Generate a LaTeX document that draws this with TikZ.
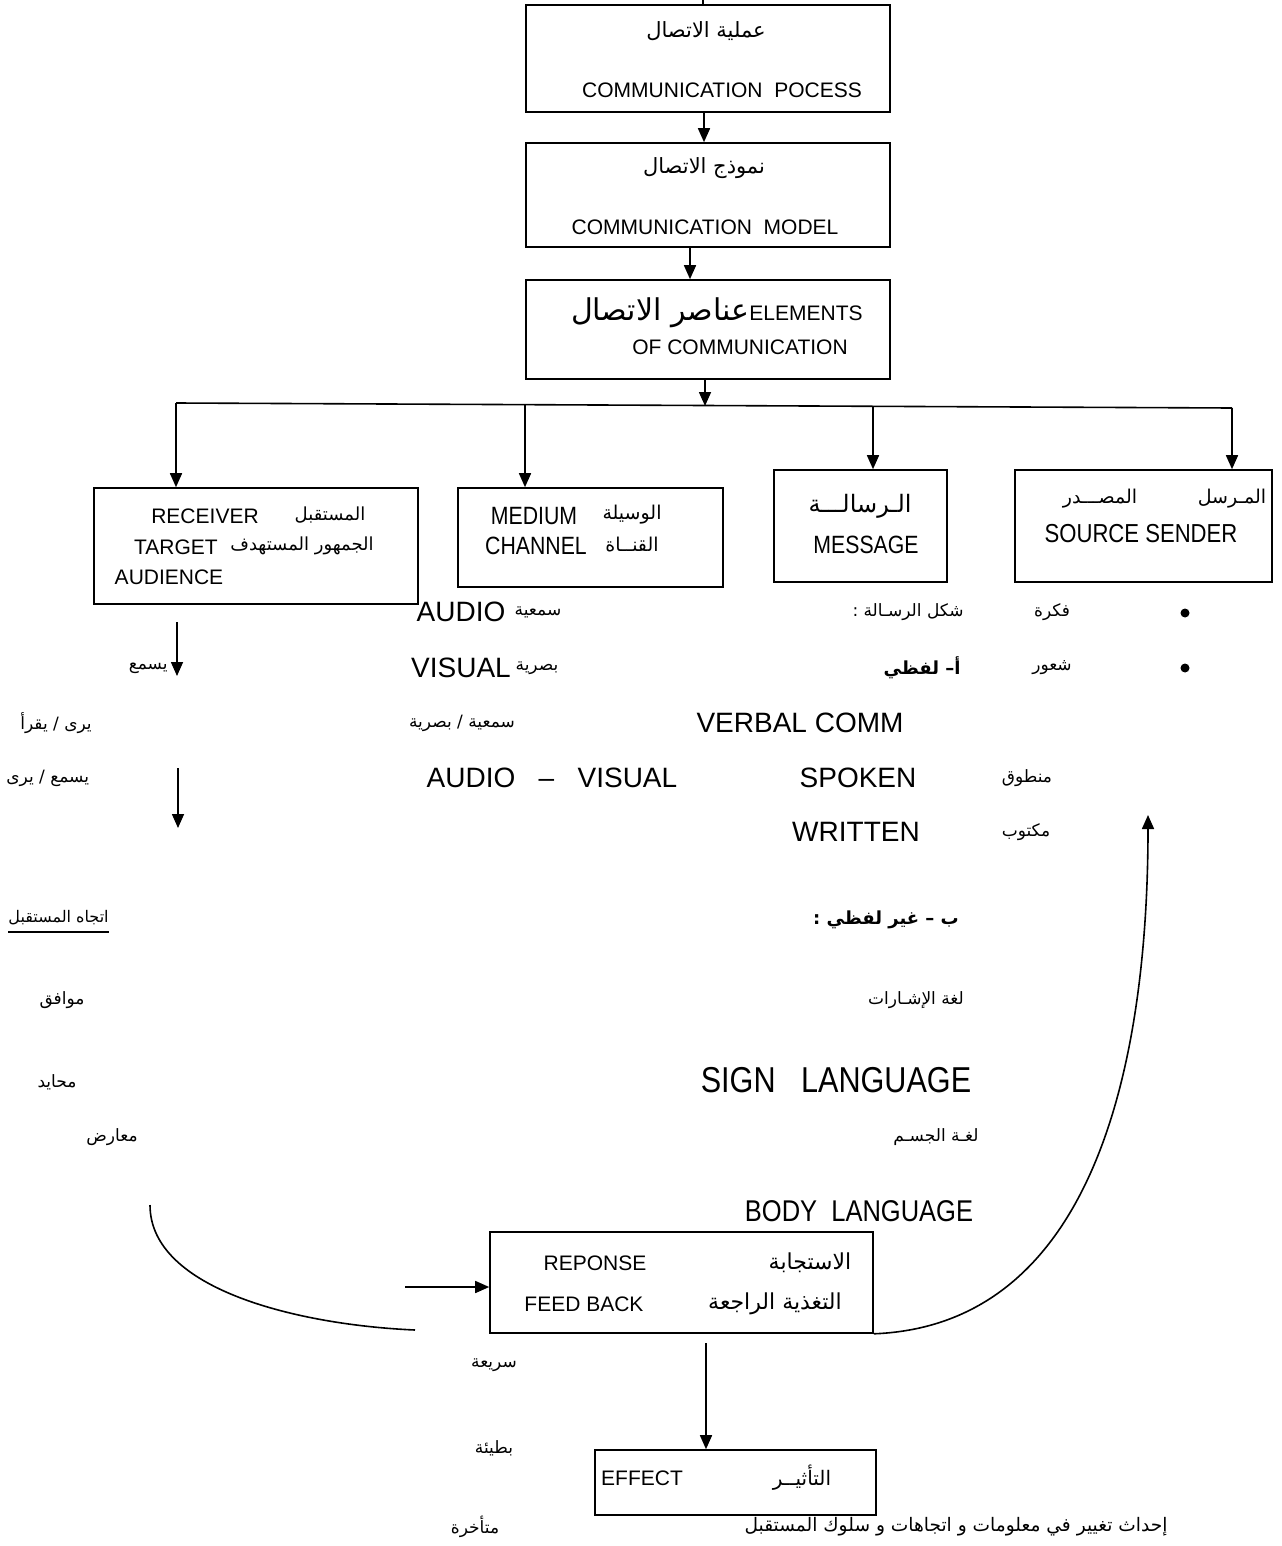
\documentclass[tikz,border=0pt]{standalone}
\usepackage{fontspec}
\setmainfont{Liberation Sans}
\newfontfamily\arf[Script=Arabic]{DejaVu Sans}
\newfontfamily\enN[FakeStretch=0.85]{Liberation Sans}
\TeXXeTstate=1
\usetikzlibrary{arrows.meta,fit}
\newcommand\AR[1]{{\arf\beginR #1\endR}}
\newcommand\fs[1]{\fontsize{#1}{#1}\selectfont}
\begin{document}
\begin{tikzpicture}[x=0.5pt,y=-0.5pt,
  box/.style={draw,line width=0.8pt,inner sep=0pt},
  txt/.style={inner sep=0pt,anchor=center},
  arr/.style={line width=0.8pt,-{Triangle[length=7pt,width=6pt]}},
  ln/.style={line width=0.8pt},
  boxen/.style={txt,font=\fs{10.5}},
  boxar/.style={txt,font=\fs{10.5}},
  bigen/.style={txt,font=\fs{14}},
  looseAr/.style={txt,font=\fs{8.5}},
  dot/.style={circle,fill,inner sep=0pt,minimum size=4.5pt}]
\useasboundingbox (0,0) rectangle (1281,1546);

% ---- main chain of boxes ----
\node[box,fit={(526,5) (890,112)}] (b1) {};
\node[box,fit={(526,143) (890,247)}] (b2) {};
\node[box,fit={(526,280) (890,379)}] (b3) {};

\node[boxar] (t1a) at (706,31) {\AR{عملية الاتصال}};
\node[boxen] (t1b) at (722,90) {COMMUNICATION\ \ POCESS};
\node[boxar] (t2a) at (704,168) {\AR{نموذج الاتصال}};
\node[boxen] (t2b) at (705,227) {COMMUNICATION\ \ MODEL};
\node[txt,anchor=east] (t3a) at (863,313) {{\fs{15}\AR{عناصر الاتصال}}{\fs{10.5}ELEMENTS}};
\node[boxen] (t3b) at (740,347) {OF COMMUNICATION};

\coordinate (top) at (703,0);
\coordinate (x704) at (704,0);
\coordinate (x690) at (690,0);
\draw[ln] (top) -- (top |- b1.north);
\draw[arr] (b1.south -| x704) -- (b2.north -| x704);
\draw[arr] (b2.south -| x690) -- (b3.north -| x690);

% ---- distribution bus ----
\coordinate (busL) at (176,403);
\coordinate (busR) at (1232,408);
\coordinate (busM) at (525,404);
\coordinate (busC) at (705,406);
\coordinate (busS) at (873,406);
\draw[ln] (busL) -- (busR);
\draw[arr] (b3.south -| busC) -- (busC);

% ---- element boxes ----
\node[box,fit={(94,488) (418,604)}] (recv) {};
\node[box,fit={(458,488) (723,587)}] (med) {};
\node[box,fit={(774,470) (947,582)}] (msg) {};
\node[box,fit={(1015,470) (1272,582)}] (src) {};

\draw[arr] (busL) -- (recv.north -| busL);
\draw[arr] (busM) -- (med.north -| busM);
\draw[arr] (busS) -- (msg.north -| busS);
\draw[arr] (busR) -- (src.north -| busR);

\node[boxen] (r1) at (205,516) {RECEIVER};
\node[txt,font=\fs{9}] (r2) at (330,515) {\AR{المستقبل}};
\node[boxen] (r3) at (176,547) {TARGET};
\node[txt,font=\fs{9}] (r4) at (302,546) {\AR{الجمهور المستهدف}};
\node[boxen] (r5) at (169,577) {AUDIENCE};

\node[txt,font=\enN\fs{12.5}] (m1) at (534,516) {MEDIUM};
\node[txt,font=\fs{9.5}] (m2) at (632,515) {\AR{الوسيلة}};
\node[txt,font=\enN\fs{12.5}] (m3) at (536,546) {CHANNEL};
\node[txt,font=\fs{9.5}] (m4) at (632,545) {\AR{القنــاة}};

\node[txt,font=\fs{12}] (g1) at (860,506) {\AR{الـرسالـــة}};
\node[txt,font=\enN\fs{12.5}] (g2) at (866,545) {MESSAGE};

\node[txt,font=\fs{9.5}] (s1) at (1232,499) {\AR{المـرسل}};
\node[txt,font=\fs{9.5}] (s2) at (1100,499) {\AR{المصـــدر}};
\node[txt,font=\enN\fs{13}] (s3) at (1141,534) {SOURCE\ SENDER};

% ---- medium column ----
\node[bigen] (a1) at (461,612) {AUDIO};
\node[looseAr] (a2) at (538,612) {\AR{سمعية}};
\node[bigen] (a3) at (461,668) {VISUAL};
\node[looseAr] (a4) at (537,668) {\AR{بصرية}};
\node[looseAr] (a5) at (462,723) {\AR{سمعية / بصرية}};
\node[bigen] (a6) at (552,778) {AUDIO\ \ \ --\ \ \ VISUAL};

% ---- message column ----
\node[looseAr] (c1) at (908,612) {\AR{شكل الرسـالة :}};
\node[txt,font=\fs{9}\bfseries] (c2) at (922,668) {\AR{أ– لفظي}};
\node[bigen] (c3) at (800,723) {VERBAL COMM};
\node[bigen] (c4) at (858,778) {SPOKEN};
\node[looseAr] (c5) at (1027,778) {\AR{منطوق}};
\node[bigen] (c6) at (856,832) {WRITTEN};
\node[looseAr] (c7) at (1026,832) {\AR{مكتوب}};
\node[txt,font=\fs{9}\bfseries] (c8) at (886,920) {\AR{ب – غير لفظي :}};
\node[looseAr] (c9) at (916,1000) {\AR{لغة الإشـارات}};
\node[txt,font=\enN\fs{18}] (c10) at (836,1080) {SIGN\ \ \ LANGUAGE};
\node[looseAr] (c11) at (936,1137) {\AR{لغـة الجسـم}};
\node[txt,font=\enN\fs{15}] (c12) at (859,1211) {BODY\ \ LANGUAGE};

% ---- source column ----
\node[looseAr] (e1) at (1052,612) {\AR{فكرة}};
\node[looseAr] (e2) at (1052,668) {\AR{شعور}};
\node[dot] (d1) at (1185,613) {};
\node[dot] (d2) at (1185,668) {};

% ---- receiver column ----
\coordinate (ra1) at (177,622);
\coordinate (ra2) at (177,676);
\coordinate (rb1) at (178,768);
\coordinate (rb2) at (178,828);
\draw[arr] (ra1) -- (ra2);
\draw[arr] (rb1) -- (rb2);
\node[looseAr,anchor=east] (v1) at (168,668) {\AR{يسمع}};
\node[looseAr] (v2) at (56,723) {\AR{يرى / يقرأ}};
\node[looseAr,anchor=west] (v3) at (6,778) {\AR{يسمع / يرى}};
\node[txt,font=\fs{8},anchor=west] (v4) at (8,918) {\AR{اتجاه المستقبل}};
\draw[ln] ([yshift=-3pt]v4.south west) -- ([yshift=-3pt]v4.south east);
\node[looseAr] (v5) at (62,1000) {\AR{موافق}};
\node[looseAr] (v6) at (57,1082) {\AR{محايد}};
\node[looseAr] (v7) at (112,1137) {\AR{معارض}};

% ---- feedback ----
\node[box,fit={(490,1232) (873,1333)}] (fb) {};
\node[txt,font=\fs{10.5}] (f1) at (595,1263) {REPONSE};
\node[txt,font=\fs{11}] (f2) at (810,1263) {\AR{الاستجابة}};
\node[txt,font=\fs{10.5}] (f3) at (584,1304) {FEED\ BACK};
\node[txt,font=\fs{11}] (f4) at (775,1304) {\AR{التغذية الراجعة}};

\coordinate (fin) at (405,1287);
\draw[arr] (fin) -- (fin -| fb.west);

\coordinate (lc1) at (150,1205);
\coordinate (lc2) at (415,1330);
\draw[ln] (lc1) .. controls (150,1290) and (300,1325) .. (lc2);

\coordinate (rtip) at (1148,815);
\draw[arr] (fb.south east) .. controls (1100,1325) and (1148,1050) .. (rtip);

% ---- effect ----
\node[box,fit={(595,1450) (876,1515)}] (eff) {};
\node[txt,font=\fs{10.5}] (h1) at (642,1478) {EFFECT};
\node[txt,font=\fs{10}] (h2) at (802,1478) {\AR{التأثيــر}};
\coordinate (ein) at (706,1343);
\draw[arr] (ein) -- (ein |- eff.north);

\node[looseAr] (k1) at (494,1365) {\AR{سريعة}};
\node[looseAr] (k2) at (494,1448) {\AR{بطيئة}};
\node[looseAr] (k3) at (475,1527) {\AR{متأخرة}};
\node[txt,font=\fs{9.3}] (k4) at (956,1527) {\AR{إحداث تغيير في معلومات و اتجاهات و سلوك المستقبل}};
\end{tikzpicture}
\end{document}
